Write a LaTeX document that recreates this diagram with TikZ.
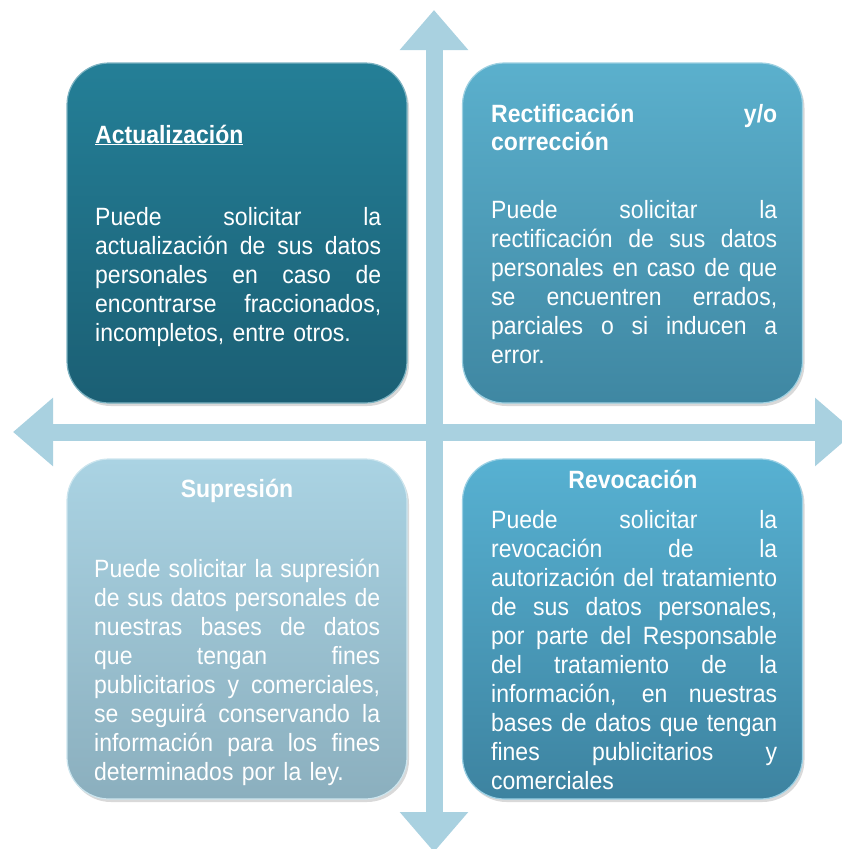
\documentclass[tikz,border=0pt]{standalone}
\usepackage{fontspec}
\setmainfont{Liberation Sans}[FakeStretch=0.92]
\usetikzlibrary{positioning,arrows.meta,shadows}

\definecolor{actTop}{HTML}{247F97}
\definecolor{actBot}{HTML}{1B5F74}
\definecolor{recTop}{HTML}{5BB0CD}
\definecolor{recBot}{HTML}{3F87A2}
\definecolor{supTop}{HTML}{AAD3E3}
\definecolor{supBot}{HTML}{8BAFBE}
\definecolor{revTop}{HTML}{57B1D2}
\definecolor{revBot}{HTML}{3D83A0}
\definecolor{crossBlue}{HTML}{A9D1E0}

% one justified line of a box text
\newcommand{\jline}[1]{\makebox[\hsize][s]{\spaceskip=0pt\xspaceskip=0pt #1}\\}

\begin{document}
\begin{tikzpicture}[x=1pt, y=-1pt,
    card/.style 2 args={rounded corners=42pt, minimum width=340pt, minimum height=340pt,
        top color=#1, bottom color=#2, draw=#1!60!white, line width=1.2pt,
        drop shadow={opacity=0.3, shadow xshift=2pt, shadow yshift=-3pt}},
    crossarrow/.style={crossBlue, line width=17pt,
        {Triangle[length=40pt, width=66pt]}-{Triangle[length=40pt, width=66pt]}},
    body/.style={text=white, text width=286pt, align=left, inner sep=0pt,
        anchor=base west, font=\fontsize{25}{29}\selectfont},
    heading/.style={text=white, inner sep=0pt, anchor=base,
        font=\fontsize{25}{29}\selectfont\bfseries}]
    \clip (0,0) rectangle (842,849);

    % cross of arrows
    \coordinate (up) at (434,10);
    \coordinate (down) at (434,852);
    \coordinate (left) at (13,432);
    \coordinate (right) at (855,432);
    \draw[crossarrow] (down) -- (up);
    \draw[crossarrow] (left) -- (right);

    % the four boxes
    \node[card={actTop}{actBot}] (act) at (237,233) {};
    \node[card={recTop}{recBot}] (rect) at (632.5,233) {};
    \node[card={supTop}{supBot}] (sup) at (237,629) {};
    \node[card={revTop}{revBot}] (rev) at (632.5,629) {};

    % Actualizacion
    \node[heading, anchor=base west] (actTitle) at (95,143) {\underline{Actualización}};
    \node[body] (actText) at (95,225) {\jline{Puede solicitar la}\jline{actualización de sus datos}\jline{personales en caso de}\jline{encontrarse fraccionados,}incompletos, entre otros.};

    % Rectificacion
    \node[body, font=\fontsize{25}{28}\selectfont\bfseries] (rectTitle) at (491,122) {\jline{Rectificación y/o}corrección};
    \node[body] (rectText) at (491,218) {\jline{Puede solicitar la}\jline{rectificación de sus datos}\jline{personales en caso de que}\jline{se encuentren errados,}\jline{parciales o si inducen a}error.};

    % Supresion
    \node[heading] (supTitle) at (237,497) {Supresión};
    \node[body] (supText) at (94,577) {\jline{Puede solicitar la supresión}\jline{de sus datos personales de}\jline{nuestras bases de datos}\jline{que tengan fines}\jline{publicitarios y comerciales,}\jline{se seguirá conservando la}\jline{información para los fines}determinados por la ley.};

    % Revocacion
    \node[heading] (revTitle) at (633,488) {Revocación};
    \node[body] (revText) at (491,528) {\jline{Puede solicitar la}\jline{revocación de la}\jline{autorización del tratamiento}\jline{de sus datos personales,}\jline{por parte del Responsable}\jline{del tratamiento de la}\jline{información, en nuestras}\jline{bases de datos que tengan}\jline{fines publicitarios y}comerciales};
\end{tikzpicture}
\end{document}
